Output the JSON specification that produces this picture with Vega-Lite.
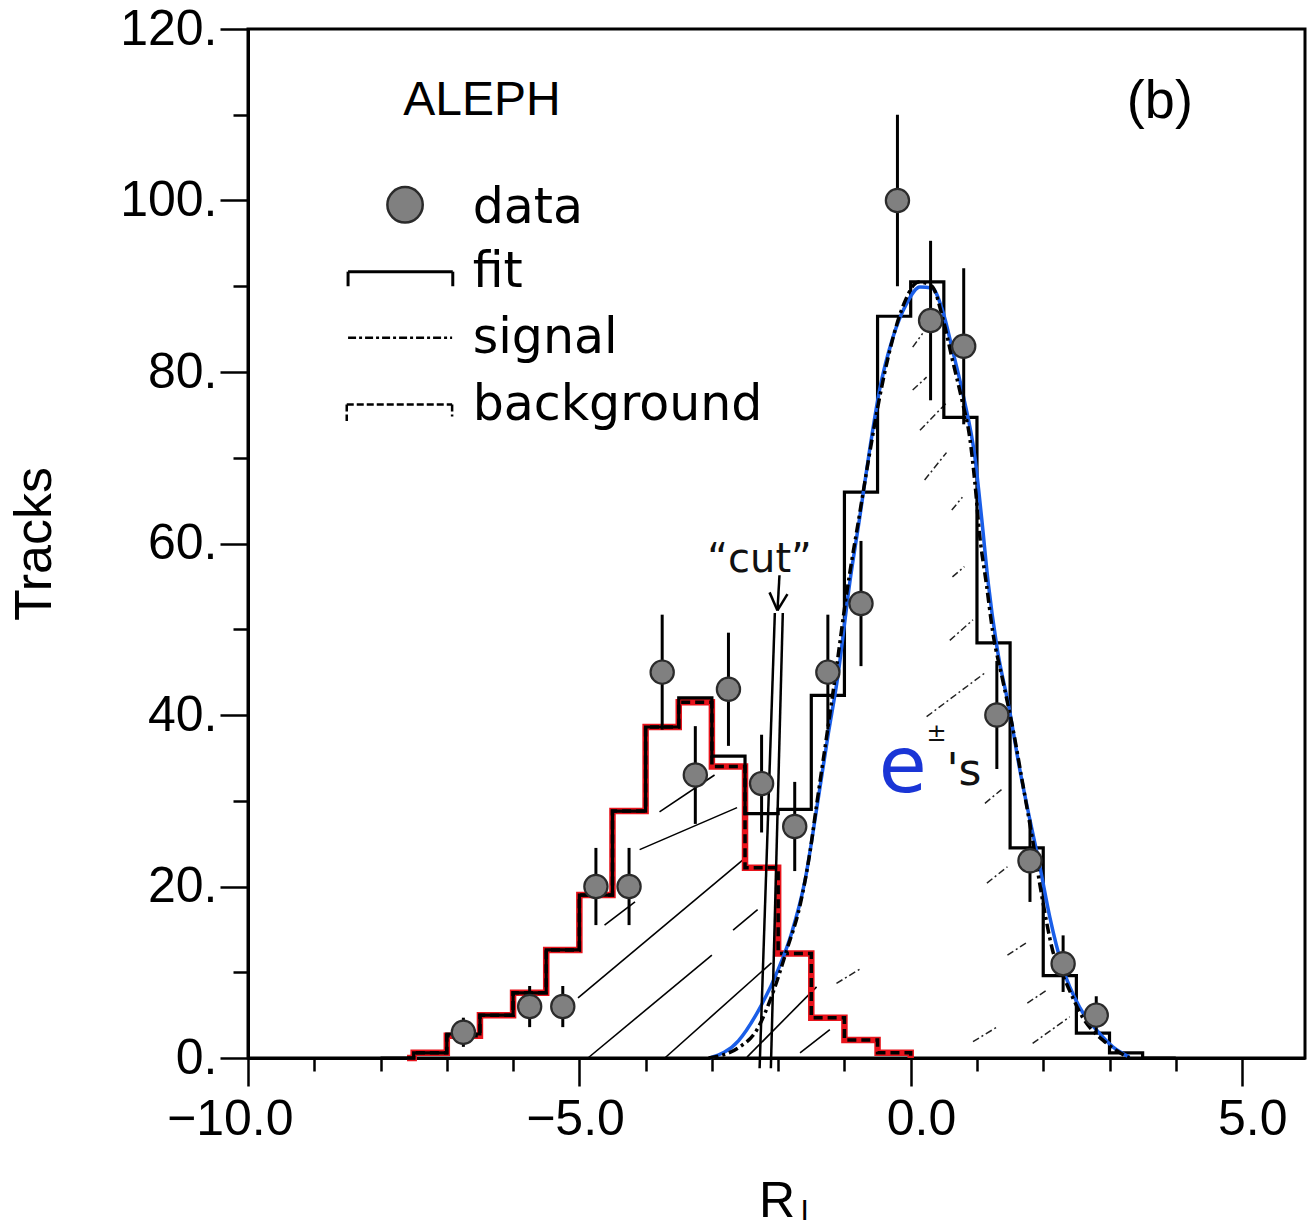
{
  "$schema": "https://vega.github.io/schema/vega-lite/v6.json",
  "width": 1057,
  "height": 1029,
  "autosize": {"type": "none"},
  "padding": {"left": 248, "top": 29, "right": 3, "bottom": 173},
  "background": "white",
  "config": {
    "view": {"stroke": "black", "strokeWidth": 3},
    "font": "Liberation Sans"
  },
  "resolve": {"axis": {"x": "independent", "y": "independent"}},
  "datasets": {
    "fit": [
      {"edge": -8.0, "v": 0}, {"edge": -7.5, "v": 0.6}, {"edge": -7.0, "v": 2.8},
      {"edge": -6.5, "v": 5.0}, {"edge": -6.0, "v": 7.6}, {"edge": -5.5, "v": 12.6},
      {"edge": -5.0, "v": 19.0}, {"edge": -4.5, "v": 28.8}, {"edge": -4.0, "v": 38.6},
      {"edge": -3.5, "v": 42.0}, {"edge": -3.0, "v": 35.2}, {"edge": -2.5, "v": 28.5},
      {"edge": -2.0, "v": 29.0}, {"edge": -1.5, "v": 42.3}, {"edge": -1.0, "v": 66.0},
      {"edge": -0.5, "v": 86.5}, {"edge": 0.0, "v": 90.5}, {"edge": 0.5, "v": 74.7},
      {"edge": 1.0, "v": 48.4}, {"edge": 1.5, "v": 24.5}, {"edge": 2.0, "v": 9.6},
      {"edge": 2.5, "v": 2.9}, {"edge": 3.0, "v": 0.6}, {"edge": 3.5, "v": 0}, {"edge": 4.0, "v": 0}
    ],
    "bkg": [
      {"edge": -7.6, "v": 0}, {"edge": -7.5, "v": 0.6}, {"edge": -7.0, "v": 2.6},
      {"edge": -6.5, "v": 5.0}, {"edge": -6.0, "v": 7.6}, {"edge": -5.5, "v": 12.6},
      {"edge": -5.0, "v": 19.0}, {"edge": -4.5, "v": 28.8}, {"edge": -4.0, "v": 38.6},
      {"edge": -3.5, "v": 41.5}, {"edge": -3.0, "v": 34.0}, {"edge": -2.5, "v": 22.2},
      {"edge": -2.0, "v": 12.2}, {"edge": -1.5, "v": 4.7}, {"edge": -1.0, "v": 2.1},
      {"edge": -0.5, "v": 0.6}, {"edge": 0.0, "v": 0}
    ],
    "signal": [
      {"x": -3.05, "v": 0}, {"x": -2.6, "v": 1.2}, {"x": -2.32, "v": 3.3}, {"x": -2.08, "v": 7.6},
      {"x": -1.87, "v": 12.6}, {"x": -1.67, "v": 17.8}, {"x": -1.52, "v": 24.0}, {"x": -1.42, "v": 29.5},
      {"x": -1.27, "v": 37.4}, {"x": -1.12, "v": 45.5}, {"x": -0.97, "v": 54.0}, {"x": -0.77, "v": 63.5},
      {"x": -0.62, "v": 70.5}, {"x": -0.47, "v": 77.0}, {"x": -0.3, "v": 83.0}, {"x": -0.1, "v": 88.0},
      {"x": 0.12, "v": 90.5}, {"x": 0.32, "v": 90.0}, {"x": 0.48, "v": 86.4}, {"x": 0.63, "v": 81.4},
      {"x": 0.78, "v": 76.5}, {"x": 0.89, "v": 72.4}, {"x": 0.97, "v": 67.0}, {"x": 1.04, "v": 61.0},
      {"x": 1.14, "v": 55.4}, {"x": 1.24, "v": 49.6}, {"x": 1.39, "v": 44.0}, {"x": 1.54, "v": 38.5},
      {"x": 1.69, "v": 32.0}, {"x": 1.84, "v": 25.4}, {"x": 1.99, "v": 18.4}, {"x": 2.14, "v": 12.6},
      {"x": 2.35, "v": 8.7}, {"x": 2.59, "v": 4.8}, {"x": 2.96, "v": 1.7}, {"x": 3.3, "v": 0}
    ],
    "blue": [
      {"x": -3.03, "v": 0}, {"x": -2.6, "v": 2.0}, {"x": -2.3, "v": 5.5}, {"x": -2.0, "v": 10.3},
      {"x": -1.8, "v": 14.5}, {"x": -1.6, "v": 20.5}, {"x": -1.42, "v": 29.0}, {"x": -1.25, "v": 37.5},
      {"x": -1.1, "v": 44.5}, {"x": -0.92, "v": 55.4}, {"x": -0.77, "v": 63.0}, {"x": -0.62, "v": 70.9},
      {"x": -0.47, "v": 77.9}, {"x": -0.27, "v": 84.0}, {"x": -0.06, "v": 88.0}, {"x": 0.14, "v": 89.9},
      {"x": 0.32, "v": 89.8}, {"x": 0.48, "v": 87.2}, {"x": 0.63, "v": 82.6}, {"x": 0.8, "v": 77.0},
      {"x": 0.97, "v": 70.0}, {"x": 1.07, "v": 63.0}, {"x": 1.17, "v": 55.4}, {"x": 1.3, "v": 48.0},
      {"x": 1.49, "v": 40.6}, {"x": 1.64, "v": 33.9}, {"x": 1.79, "v": 28.1}, {"x": 1.95, "v": 22.3},
      {"x": 2.1, "v": 16.4}, {"x": 2.29, "v": 10.6}, {"x": 2.55, "v": 5.9}, {"x": 2.8, "v": 3.3},
      {"x": 3.05, "v": 1.3}, {"x": 3.3, "v": 0.1}
    ],
    "points": [
      {"x": -6.75, "y": 3, "lo": 1.3, "hi": 4.7},
      {"x": -5.75, "y": 6, "lo": 3.6, "hi": 8.4},
      {"x": -5.25, "y": 6, "lo": 3.6, "hi": 8.4},
      {"x": -4.75, "y": 20, "lo": 15.5, "hi": 24.5},
      {"x": -4.25, "y": 20, "lo": 15.5, "hi": 24.5},
      {"x": -3.75, "y": 45, "lo": 38.3, "hi": 51.7},
      {"x": -3.25, "y": 33, "lo": 27.3, "hi": 38.7},
      {"x": -2.75, "y": 43, "lo": 36.4, "hi": 49.6},
      {"x": -2.25, "y": 32, "lo": 26.3, "hi": 37.7},
      {"x": -1.75, "y": 27, "lo": 21.8, "hi": 32.2},
      {"x": -1.25, "y": 45, "lo": 38.3, "hi": 51.7},
      {"x": -0.75, "y": 53, "lo": 45.7, "hi": 60.3},
      {"x": -0.2, "y": 100, "lo": 90, "hi": 110},
      {"x": 0.3, "y": 86, "lo": 76.7, "hi": 95.3},
      {"x": 0.8, "y": 83, "lo": 73.9, "hi": 92.1},
      {"x": 1.3, "y": 40, "lo": 33.7, "hi": 46.3},
      {"x": 1.8, "y": 23, "lo": 18.2, "hi": 27.8},
      {"x": 2.3, "y": 11, "lo": 7.7, "hi": 14.3},
      {"x": 2.8, "y": 5, "lo": 2.8, "hi": 7.2}
    ],
    "hatchB": [
      {"x1": -4.87, "y1": 0, "x2": -3.0, "y2": 12.0},
      {"x1": -3.71, "y1": 0, "x2": -2.1, "y2": 11.1},
      {"x1": -5.02, "y1": 7.0, "x2": -2.5, "y2": 23.3},
      {"x1": -4.62, "y1": 15.5, "x2": -4.16, "y2": 18.2},
      {"x1": -4.09, "y1": 24.3, "x2": -2.62, "y2": 29.2},
      {"x1": -2.68, "y1": 14.9, "x2": -2.31, "y2": 17.3},
      {"x1": -2.47, "y1": 0.1, "x2": -1.42, "y2": 8.3},
      {"x1": -1.67, "y1": 0.6, "x2": -1.22, "y2": 3.3},
      {"x1": -3.79, "y1": 28.7, "x2": -2.96, "y2": 33.0}
    ],
    "hatchS": [
      {"x1": 0.03, "y1": 82.9, "x2": 0.18, "y2": 84.5},
      {"x1": 0.03, "y1": 77.9, "x2": 0.24, "y2": 79.4},
      {"x1": 0.14, "y1": 73.2, "x2": 0.54, "y2": 76.4},
      {"x1": 0.21, "y1": 67.4, "x2": 0.54, "y2": 70.6},
      {"x1": 0.62, "y1": 63.9, "x2": 0.78, "y2": 65.4},
      {"x1": 0.63, "y1": 56.1, "x2": 0.81, "y2": 57.3},
      {"x1": 0.59, "y1": 48.7, "x2": 0.94, "y2": 51.1},
      {"x1": 0.24, "y1": 39.8, "x2": 1.12, "y2": 44.9},
      {"x1": 1.12, "y1": 29.7, "x2": 1.37, "y2": 31.3},
      {"x1": 1.15, "y1": 20.4, "x2": 1.46, "y2": 22.3},
      {"x1": 1.46, "y1": 12.0, "x2": 1.76, "y2": 13.5},
      {"x1": 1.76, "y1": 6.4, "x2": 2.05, "y2": 7.9},
      {"x1": 0.94, "y1": 1.9, "x2": 1.3, "y2": 3.6},
      {"x1": 1.84, "y1": 1.7, "x2": 2.4, "y2": 4.8},
      {"x1": -1.12, "y1": 8.7, "x2": -0.74, "y2": 10.5}
    ],
    "cut": [
      {"x1": -2.05, "y1": 51.9, "x2": -2.28, "y2": -1.2},
      {"x1": -1.93, "y1": 51.9, "x2": -2.11, "y2": -1.2},
      {"x1": -1.98, "y1": 56.3, "x2": -2.01, "y2": 52.2},
      {"x1": -2.13, "y1": 54.3, "x2": -2.01, "y2": 52.2},
      {"x1": -1.86, "y1": 54.1, "x2": -2.01, "y2": 52.2}
    ],
    "legFit": [
      {"x1": -8.49, "y1": 91.7, "x2": -6.91, "y2": 91.7},
      {"x1": -8.49, "y1": 91.7, "x2": -8.49, "y2": 90.0},
      {"x1": -6.91, "y1": 91.7, "x2": -6.91, "y2": 90.0}
    ],
    "legSig": [
      {"x1": -8.49, "y1": 84.0, "x2": -6.92, "y2": 84.0}
    ],
    "legBkg": [
      {"x1": -8.51, "y1": 76.2, "x2": -6.92, "y2": 76.2},
      {"x1": -8.51, "y1": 76.2, "x2": -8.51, "y2": 74.3},
      {"x1": -6.92, "y1": 76.2, "x2": -6.92, "y2": 74.8}
    ],
    "legPt": [{"x": -7.63, "y": 99.5}],
    "legText": [
      {"x": -6.61, "y": 97.4, "t": "data"},
      {"x": -6.61, "y": 89.9, "t": "fit"},
      {"x": -6.61, "y": 82.2, "t": "signal"},
      {"x": -6.61, "y": 74.4, "t": "background"}
    ],
    "title1": [{"x": -6.47, "y": 110.0, "t": "ALEPH"}],
    "title2": [{"x": 3.76, "y": 109.6, "t": "(b)"}],
    "cutText": [{"x": -2.28, "y": 56.7, "t": "\u201ccut\u201d"}],
    "eText": [{"x": -0.12, "y": 31.0, "t": "e"}],
    "sText": [{"x": 0.54, "y": 31.8, "t": "'s"}],
    "pmText": [{"x": 0.39, "y": 37.0, "t": "\u00b1"}],
    "subText": [{"x": -1.6, "y": -18.9, "t": "I"}]
  },
  "layer": [
    {
      "data": {"name": "hatchB"},
      "mark": {"type": "rule", "color": "black", "strokeWidth": 1.6},
      "encoding": {
        "x": {"field": "x1", "type": "quantitative",
          "scale": {"domain": [-10, 5.95], "nice": false, "zero": false},
          "axis": {
            "orient": "bottom",
            "values": [-10, -5, 0, 5],
            "format": ".1f",
            "labelFont": "Liberation Sans", "labelFontSize": 50, "labelColor": "black",
            "labelAlign": "right", "labelOffset": 45, "labelPadding": 8,
            "labelFlush": false, "labelOverlap": false, "labelBound": false,
            "tickSize": 28, "tickWidth": 2.5, "tickColor": "black",
            "domainColor": "black", "domainWidth": 3, "grid": false,
            "title": "R", "titleFont": "Liberation Sans", "titleFontSize": 50,
            "titleFontWeight": "normal", "titleColor": "black", "titlePadding": 32
          }},
        "x2": {"field": "x2"},
        "y": {"field": "y1", "type": "quantitative",
          "scale": {"domain": [0, 120], "nice": false, "zero": false},
          "axis": {
            "orient": "left",
            "values": [0, 20, 40, 60, 80, 100, 120],
            "labelExpr": "datum.value + '.'",
            "labelFont": "Liberation Sans", "labelFontSize": 50, "labelColor": "black",
            "labelPadding": 3, "labelFlush": false, "labelOverlap": false, "labelBound": false,
            "tickSize": 28, "tickWidth": 2.5, "tickColor": "black",
            "domainColor": "black", "domainWidth": 3, "grid": false,
            "title": "Tracks", "titleFont": "Liberation Sans", "titleFontSize": 52,
            "titleFontWeight": "normal", "titleColor": "black", "titlePadding": 58
          }},
        "y2": {"field": "y2"}
      }
    },
    {
      "data": {"name": "hatchS"},
      "mark": {"type": "rule", "color": "#222", "strokeWidth": 1.5, "strokeDash": [7, 3, 2, 3]},
      "encoding": {
        "x": {"field": "x1", "type": "quantitative",
          "axis": {
            "orient": "bottom",
            "values": [-9, -8, -7, -6, -4, -3, -2, -1, 1, 2, 3, 4],
            "labels": false, "domain": false, "grid": false,
            "tickSize": 13, "tickWidth": 2.5, "tickColor": "black", "title": null
          }},
        "x2": {"field": "x2"},
        "y": {"field": "y1", "type": "quantitative",
          "axis": {
            "orient": "left",
            "values": [10, 30, 50, 70, 90, 110],
            "labels": false, "domain": false, "grid": false,
            "tickSize": 15, "tickWidth": 2.5, "tickColor": "black", "title": null
          }},
        "y2": {"field": "y2"}
      }
    },
    {
      "data": {"name": "bkg"},
      "mark": {"type": "line", "interpolate": "step-after", "color": "#e8141c", "strokeWidth": 6.5},
      "encoding": {
        "x": {"field": "edge", "type": "quantitative", "axis": null},
        "y": {"field": "v", "type": "quantitative", "axis": null}
      }
    },
    {
      "data": {"name": "fit"},
      "mark": {"type": "line", "interpolate": "step-after", "color": "black", "strokeWidth": 3.2},
      "encoding": {
        "x": {"field": "edge", "type": "quantitative", "axis": null},
        "y": {"field": "v", "type": "quantitative", "axis": null}
      }
    },
    {
      "data": {"name": "bkg"},
      "mark": {"type": "line", "interpolate": "step-after", "color": "black", "strokeWidth": 3.5, "strokeDash": [9, 5]},
      "encoding": {
        "x": {"field": "edge", "type": "quantitative", "axis": null},
        "y": {"field": "v", "type": "quantitative", "axis": null}
      }
    },
    {
      "data": {"name": "blue"},
      "mark": {"type": "line", "interpolate": "monotone", "color": "#1a5ee8", "strokeWidth": 3.5},
      "encoding": {
        "x": {"field": "x", "type": "quantitative", "axis": null},
        "y": {"field": "v", "type": "quantitative", "axis": null}
      }
    },
    {
      "data": {"name": "signal"},
      "mark": {"type": "line", "interpolate": "monotone", "color": "black", "strokeWidth": 3.5, "strokeDash": [10, 4, 3, 4]},
      "encoding": {
        "x": {"field": "x", "type": "quantitative", "axis": null},
        "y": {"field": "v", "type": "quantitative", "axis": null}
      }
    },
    {
      "data": {"name": "cut"},
      "mark": {"type": "rule", "color": "black", "strokeWidth": 2.5},
      "encoding": {
        "x": {"field": "x1", "type": "quantitative", "axis": null},
        "x2": {"field": "x2"},
        "y": {"field": "y1", "type": "quantitative", "axis": null},
        "y2": {"field": "y2"}
      }
    },
    {
      "data": {"name": "points"},
      "mark": {"type": "rule", "color": "black", "strokeWidth": 3},
      "encoding": {
        "x": {"field": "x", "type": "quantitative", "axis": null},
        "y": {"field": "lo", "type": "quantitative", "axis": null},
        "y2": {"field": "hi"}
      }
    },
    {
      "data": {"name": "points"},
      "mark": {"type": "point", "shape": "circle", "filled": true, "size": 540, "fill": "#808080", "stroke": "#2b2b2b", "strokeWidth": 2.2, "opacity": 1},
      "encoding": {
        "x": {"field": "x", "type": "quantitative", "axis": null},
        "y": {"field": "y", "type": "quantitative", "axis": null}
      }
    },
    {
      "data": {"name": "legPt"},
      "mark": {"type": "point", "shape": "circle", "filled": true, "size": 1250, "fill": "#808080", "stroke": "#2b2b2b", "strokeWidth": 2.5, "opacity": 1},
      "encoding": {
        "x": {"field": "x", "type": "quantitative", "axis": null},
        "y": {"field": "y", "type": "quantitative", "axis": null}
      }
    },
    {
      "data": {"name": "legFit"},
      "mark": {"type": "rule", "color": "black", "strokeWidth": 3},
      "encoding": {
        "x": {"field": "x1", "type": "quantitative", "axis": null},
        "x2": {"field": "x2"},
        "y": {"field": "y1", "type": "quantitative", "axis": null},
        "y2": {"field": "y2"}
      }
    },
    {
      "data": {"name": "legSig"},
      "mark": {"type": "rule", "color": "black", "strokeWidth": 2.5, "strokeDash": [8, 3, 3, 3]},
      "encoding": {
        "x": {"field": "x1", "type": "quantitative", "axis": null},
        "x2": {"field": "x2"},
        "y": {"field": "y1", "type": "quantitative", "axis": null},
        "y2": {"field": "y2"}
      }
    },
    {
      "data": {"name": "legBkg"},
      "mark": {"type": "rule", "color": "black", "strokeWidth": 2.5, "strokeDash": [7, 3]},
      "encoding": {
        "x": {"field": "x1", "type": "quantitative", "axis": null},
        "x2": {"field": "x2"},
        "y": {"field": "y1", "type": "quantitative", "axis": null},
        "y2": {"field": "y2"}
      }
    },
    {
      "data": {"name": "legText"},
      "mark": {"type": "text", "font": "DejaVu Sans", "fontSize": 49, "align": "left", "baseline": "alphabetic", "color": "black"},
      "encoding": {
        "x": {"field": "x", "type": "quantitative", "axis": null},
        "y": {"field": "y", "type": "quantitative", "axis": null},
        "text": {"field": "t"}
      }
    },
    {
      "data": {"name": "title1"},
      "mark": {"type": "text", "font": "Liberation Sans", "fontSize": 48, "align": "center", "baseline": "alphabetic", "color": "black"},
      "encoding": {
        "x": {"field": "x", "type": "quantitative", "axis": null},
        "y": {"field": "y", "type": "quantitative", "axis": null},
        "text": {"field": "t"}
      }
    },
    {
      "data": {"name": "title2"},
      "mark": {"type": "text", "font": "Liberation Sans", "fontSize": 54, "align": "center", "baseline": "alphabetic", "color": "black"},
      "encoding": {
        "x": {"field": "x", "type": "quantitative", "axis": null},
        "y": {"field": "y", "type": "quantitative", "axis": null},
        "text": {"field": "t"}
      }
    },
    {
      "data": {"name": "cutText"},
      "mark": {"type": "text", "font": "DejaVu Sans", "fontSize": 40, "align": "center", "baseline": "alphabetic", "color": "#111"},
      "encoding": {
        "x": {"field": "x", "type": "quantitative", "axis": null},
        "y": {"field": "y", "type": "quantitative", "axis": null},
        "text": {"field": "t"}
      }
    },
    {
      "data": {"name": "eText"},
      "mark": {"type": "text", "font": "DejaVu Sans", "fontSize": 78, "align": "center", "baseline": "alphabetic", "color": "#1a35d6"},
      "encoding": {
        "x": {"field": "x", "type": "quantitative", "axis": null},
        "y": {"field": "y", "type": "quantitative", "axis": null},
        "text": {"field": "t"}
      }
    },
    {
      "data": {"name": "sText"},
      "mark": {"type": "text", "font": "DejaVu Sans", "fontSize": 44, "align": "left", "baseline": "alphabetic", "color": "#111"},
      "encoding": {
        "x": {"field": "x", "type": "quantitative", "axis": null},
        "y": {"field": "y", "type": "quantitative", "axis": null},
        "text": {"field": "t"}
      }
    },
    {
      "data": {"name": "pmText"},
      "mark": {"type": "text", "font": "DejaVu Sans", "fontSize": 24, "align": "center", "baseline": "alphabetic", "color": "#111"},
      "encoding": {
        "x": {"field": "x", "type": "quantitative", "axis": null},
        "y": {"field": "y", "type": "quantitative", "axis": null},
        "text": {"field": "t"}
      }
    },
    {
      "data": {"name": "subText"},
      "mark": {"type": "text", "font": "Liberation Sans", "fontSize": 30, "align": "center", "baseline": "alphabetic", "color": "black"},
      "encoding": {
        "x": {"field": "x", "type": "quantitative", "axis": null},
        "y": {"field": "y", "type": "quantitative", "axis": null},
        "text": {"field": "t"}
      }
    }
  ]
}
